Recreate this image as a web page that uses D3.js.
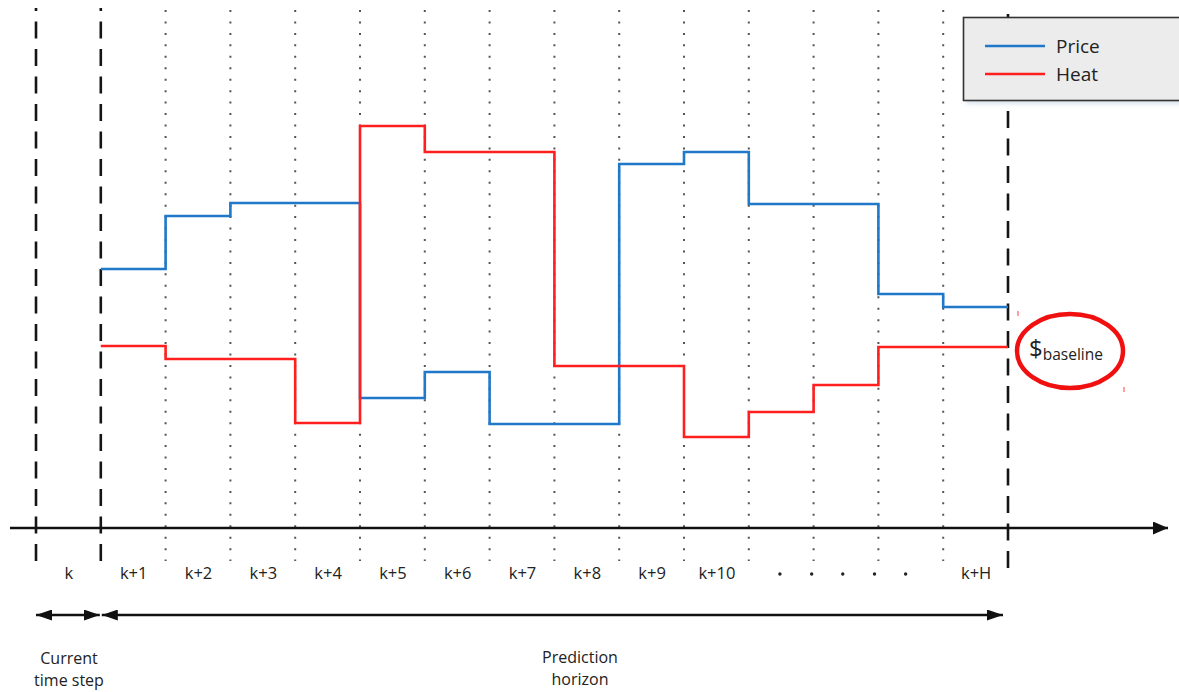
<!DOCTYPE html>
<html>
<head>
<meta charset="utf-8">
<script src="https://cdn.jsdelivr.net/npm/d3@7/dist/d3.min.js"></script>
<style>
  html, body { margin: 0; padding: 0; background: #fff; }
  svg { display: block; font-family: "Open Sans", "Noto Sans", sans-serif; }
</style>
</head>
<body>
<svg id="chart" width="1179" height="692"></svg>
<script>
// ---- data ----
const categories = ["k", "k+1", "k+2", "k+3", "k+4", "k+5", "k+6", "k+7", "k+8", "k+9", "k+10"];
const lastLabel = "k+H";
const ellipsisDots = [11.48, 11.97, 12.45, 12.94, 13.42];   // positions (in steps) of the "· · · · ·"
const stepIndex = [1, 2, 3, 4, 5, 6, 7, 8, 9, 10, 11, 12, 13, 14];
const price = [259, 312, 325, 325, 130, 156, 104, 104, 364, 376, 324, 324, 234, 221];
const heat  = [182, 169, 169, 105, 402, 376, 376, 162, 162, 91, 116, 143, 181, 181];
const seriesNames = ["Price", "Heat"];
const seriesColors = ["#1f78c8", "#ff1f1f"];
const dashedBounds = [0, 1, 15];     // current step start, horizon start, horizon end
const dottedBounds = [2, 3, 4, 5, 6, 7, 8, 9, 10, 11, 12, 13, 14];
const annotations = { current: ["Current", "time step"], horizon: ["Prediction", "horizon"] };

// ---- scales ----
const svg = d3.select("#chart");
const x = d3.scaleLinear().domain([0, 15]).range([36, 1008]);
const y = d3.scaleLinear().domain([0, 400]).range([528, 128]);
const axisY = y(0);

// ---- arrow markers ----
const defs = svg.append("defs");
function marker(id, w, h) {
  defs.append("marker").attr("id", id)
    .attr("viewBox", `0 0 ${w} ${h}`).attr("refX", w).attr("refY", h / 2)
    .attr("markerWidth", w).attr("markerHeight", h)
    .attr("markerUnits", "userSpaceOnUse").attr("orient", "auto-start-reverse")
    .append("path").attr("d", `M0,0L${w},${h / 2}L0,${h}Z`).attr("fill", "#111");
}
marker("ah", 16, 11);
marker("axh", 15, 13);
const blur = defs.append("filter").attr("id", "sh").attr("x", "-10%").attr("y", "-20%").attr("width", "130%").attr("height", "160%");
blur.append("feGaussianBlur").attr("stdDeviation", 2);

// ---- dotted grid lines ----
svg.append("g").selectAll("line").data(dottedBounds).join("line")
  .attr("x1", d => x(d)).attr("x2", d => x(d))
  .attr("y1", 10).attr("y2", 561)
  .attr("stroke", "#555").attr("stroke-width", 2)
  .attr("stroke-dasharray", "2 9.45");

// ---- dashed boundaries ----
svg.append("g").selectAll("line").data(dashedBounds).join("line")
  .attr("x1", d => x(d)).attr("x2", d => x(d))
  .attr("y1", d => d === 15 ? 568 : 561).attr("y2", d => d === 15 ? 14 : 8)
  .attr("stroke", "#151515").attr("stroke-width", 2.6)
  .attr("stroke-dasharray", "17 10.5");

// ---- series step lines ----
const seriesData = [price, heat];
const line = d3.line()
  .x(d => x(d[0])).y(d => y(d[1]))
  .curve(d3.curveStepAfter);
seriesData.forEach((vals, i) => {
  const pts = stepIndex.map((s, j) => [s, vals[j]]);
  pts.push([15, vals[vals.length - 1]]);
  svg.append("path").datum(pts)
    .attr("d", line)
    .attr("fill", "none")
    .attr("stroke", seriesColors[i])
    .attr("stroke-width", 2.6)
    .attr("stroke-linejoin", "miter");
});

// ---- time axis ----
svg.append("line")
  .attr("x1", 10).attr("x2", 1168).attr("y1", axisY).attr("y2", axisY)
  .attr("stroke", "#111").attr("stroke-width", 2.6)
  .attr("marker-end", "url(#axh)");

const tickPos = categories.map((c, i) => i + 0.5).concat([14.5]);
const tickLab = categories.concat([lastLabel]);
const axisG = svg.append("g").attr("transform", `translate(0,${axisY + 48})`)
  .call(d3.axisBottom(x).tickValues(tickPos).tickSize(0)
    .tickFormat((d, i) => tickLab[i]));
axisG.select(".domain").remove();
axisG.attr("font-size", null).attr("font-family", null);
axisG.selectAll("text")
  .attr("font-size", 16.5).attr("fill", "#222").attr("dy", "0");

svg.append("g").selectAll("circle").data(ellipsisDots).join("circle")
  .attr("cx", d => x(d)).attr("cy", axisY + 46).attr("r", 1.7).attr("fill", "#222");

// ---- span arrows ----
const arrowY = 615;
svg.append("line")
  .attr("x1", x(0)).attr("x2", x(1) - 1).attr("y1", arrowY).attr("y2", arrowY)
  .attr("stroke", "#111").attr("stroke-width", 2.4)
  .attr("marker-start", "url(#ah)").attr("marker-end", "url(#ah)");
svg.append("line")
  .attr("x1", x(1) + 1).attr("x2", x(15) - 5).attr("y1", arrowY).attr("y2", arrowY)
  .attr("stroke", "#111").attr("stroke-width", 2.4)
  .attr("marker-start", "url(#ah)").attr("marker-end", "url(#ah)");

function twoLine(cx, lines, y0) {
  const t = svg.append("text").attr("text-anchor", "middle")
    .attr("font-size", 16).attr("fill", "#222");
  lines.forEach((s, i) => t.append("tspan").attr("x", cx).attr("y", y0 + i * 22).text(s));
}
twoLine(69, annotations.current, 664);
twoLine(580, annotations.horizon, 663);

// ---- legend ----
const lg = svg.append("g");
lg.append("rect").attr("x", 966).attr("y", 22).attr("width", 240).attr("height", 82)
  .attr("fill", "#c9d6e6").attr("opacity", 0.7).attr("filter", "url(#sh)");
lg.append("rect").attr("x", 963.5).attr("y", 17.5).attr("width", 240).attr("height", 83)
  .attr("fill", "#ececec").attr("stroke", "#333").attr("stroke-width", 1.6);
seriesNames.forEach((n, i) => {
  const ly = 46 + i * 28;
  lg.append("line").attr("x1", 985).attr("x2", 1045).attr("y1", ly).attr("y2", ly)
    .attr("stroke", seriesColors[i]).attr("stroke-width", 2.4);
  lg.append("text").attr("x", 1056).attr("y", ly + 7).attr("font-size", 19)
    .attr("fill", "#222").text(n);
});

// ---- baseline annotation ----
svg.append("ellipse").attr("cx", 1070).attr("cy", 351).attr("rx", 53).attr("ry", 37)
  .attr("fill", "none").attr("stroke", "#f01010").attr("stroke-width", 4.5);
const bt = svg.append("text").attr("x", 1029).attr("y", 357).attr("fill", "#222");
bt.append("tspan").attr("font-size", 24).text("$");
bt.append("tspan").attr("font-size", 15.5).attr("dy", 3).text("baseline");
svg.append("line").attr("x1", 1018).attr("x2", 1018).attr("y1", 311).attr("y2", 316)
  .attr("stroke", "#ff6060").attr("stroke-width", 1.2);
svg.append("line").attr("x1", 1124).attr("x2", 1124).attr("y1", 387).attr("y2", 392)
  .attr("stroke", "#ff6060").attr("stroke-width", 1.2);
</script>
</body>
</html>
